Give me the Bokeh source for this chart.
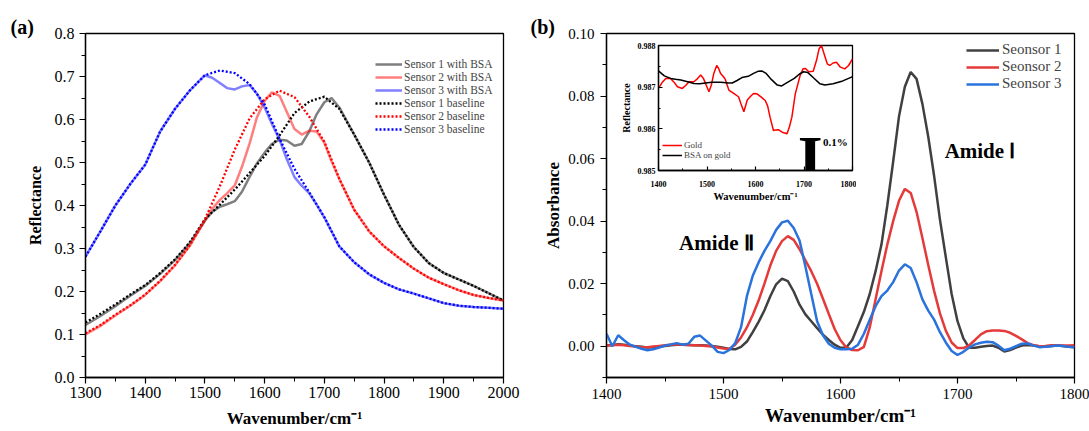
from bokeh.plotting import figure
from bokeh.models import (Range1d, Legend, LegendItem, Label,
                          FixedTicker, PrintfTickFormatter)
from bokeh.layouts import row
from bokeh.embed import file_html
from bokeh.resources import INLINE

SERIF = "Liberation Serif"

# ---------------- Panel (a) data ----------------
wn_a = list(range(1300, 2001, 25))
base1 = [0.128, 0.148, 0.170, 0.193, 0.215, 0.243, 0.275, 0.315, 0.368, 0.402,
         0.437, 0.476, 0.515, 0.563, 0.615, 0.642, 0.653, 0.625, 0.565, 0.500,
         0.425, 0.355, 0.303, 0.266, 0.243, 0.228, 0.213, 0.196, 0.179]
base2 = [0.103, 0.122, 0.146, 0.168, 0.193, 0.225, 0.262, 0.308, 0.368, 0.445,
         0.530, 0.603, 0.647, 0.667, 0.652, 0.606, 0.548, 0.462, 0.390, 0.340,
         0.305, 0.278, 0.253, 0.232, 0.217, 0.203, 0.192, 0.185, 0.179]
base3 = [0.281, 0.340, 0.400, 0.450, 0.495, 0.572, 0.625, 0.668, 0.703, 0.714,
         0.708, 0.682, 0.635, 0.555, 0.485, 0.430, 0.373, 0.305, 0.268, 0.240,
         0.220, 0.205, 0.195, 0.184, 0.173, 0.167, 0.164, 0.162, 0.160]

wn_bsa = [1300, 1325, 1350, 1375, 1400, 1425, 1450, 1475, 1500,
          1512, 1525, 1537, 1550, 1562, 1575, 1587, 1600, 1612, 1625, 1637,
          1650, 1662, 1675, 1687, 1700, 1712, 1725,
          1750, 1775, 1800, 1825, 1850, 1875, 1900, 1925, 1950, 1975, 2000]
bsa1 = [0.122, 0.143, 0.166, 0.190, 0.213, 0.241, 0.273, 0.313, 0.365,
        0.385, 0.397, 0.403, 0.410, 0.432, 0.467, 0.498, 0.523, 0.543, 0.553, 0.551,
        0.539, 0.543, 0.573, 0.612, 0.640, 0.650, 0.628,
        0.565, 0.500, 0.425, 0.355, 0.303, 0.266, 0.243, 0.228, 0.213, 0.196, 0.179]
bsa2 = [0.100, 0.120, 0.144, 0.167, 0.192, 0.224, 0.261, 0.307, 0.365,
        0.392, 0.413, 0.428, 0.447, 0.490, 0.545, 0.605, 0.643, 0.663, 0.655, 0.618,
        0.578, 0.565, 0.574, 0.572, 0.546, 0.503, 0.462,
        0.390, 0.340, 0.305, 0.278, 0.253, 0.232, 0.217, 0.203, 0.192, 0.185, 0.179]
bsa3 = [0.281, 0.340, 0.400, 0.450, 0.495, 0.572, 0.625, 0.668, 0.703,
        0.697, 0.685, 0.673, 0.670, 0.677, 0.680, 0.660, 0.628, 0.590, 0.553, 0.508,
        0.466, 0.446, 0.428, 0.402, 0.372, 0.340, 0.305,
        0.268, 0.240, 0.220, 0.205, 0.195, 0.184, 0.173, 0.167, 0.164, 0.162, 0.160]

labels_a = ["Sensor 1 with BSA", "Sensor 2 with BSA", "Sensor 3 with BSA",
            "Sensor 1 baseline", "Sensor 2 baseline", "Sensor 3 baseline"]

# ---------------- Panel (b) data ----------------
wn_b = list(range(1400, 1801, 5))
abs1 = [0.0002, 0.0004, 0.0006, 0.0005, 0.0002, 0.0000, -0.0002, -0.0004, -0.0003, -0.0001,
        0.0001, 0.0003, 0.0005, 0.0005, 0.0004, 0.0003, 0.0003, 0.0002, 0.0001, -0.0002,
        -0.0005, -0.0009, -0.0010, -0.0002, 0.0015, 0.0045, 0.0078, 0.0115, 0.0160, 0.0198,
        0.0216, 0.0208, 0.0175, 0.0133, 0.0102, 0.0080, 0.0058, 0.0037, 0.0020, 0.0005,
        -0.0005, -0.0004, 0.0020, 0.0065, 0.0110, 0.0167, 0.0240, 0.0325, 0.0450, 0.0590,
        0.0735, 0.0830, 0.0877, 0.0855, 0.0775, 0.0670, 0.0545, 0.0405, 0.0285, 0.0167,
        0.0080, 0.0025, -0.0005, -0.0005, -0.0002, 0.0001, 0.0002, -0.0005, -0.0017, -0.0012,
        -0.0004, 0.0002, 0.0004, 0.0002, 0.0000, -0.0001, 0.0001, 0.0002, 0.0001, -0.0002,
        -0.0003]
abs2 = [0.0002, 0.0003, 0.0005, 0.0003, 0.0001, -0.0001, -0.0003, -0.0003, -0.0001, 0.0001,
        0.0003, 0.0005, 0.0006, 0.0005, 0.0004, 0.0003, 0.0002, 0.0001, -0.0001, -0.0004,
        -0.0007, -0.0008, 0.0005, 0.0028, 0.0060, 0.0100, 0.0146, 0.0200, 0.0258, 0.0305,
        0.0336, 0.0352, 0.0340, 0.0310, 0.0275, 0.0240, 0.0200, 0.0152, 0.0103, 0.0055,
        0.0019, -0.0004, -0.0012, -0.0013, -0.0002, 0.0060, 0.0150, 0.0240, 0.0325, 0.0400,
        0.0465, 0.0503, 0.0490, 0.0430, 0.0346, 0.0260, 0.0177, 0.0105, 0.0050, 0.0012,
        -0.0006, -0.0006, 0.0003, 0.0020, 0.0038, 0.0048, 0.0050, 0.0050, 0.0049, 0.0043,
        0.0033, 0.0022, 0.0010, 0.0003, 0.0000, 0.0001, 0.0003, 0.0003, 0.0002, 0.0002,
        0.0003]
abs3 = [0.0040, 0.0000, 0.0035, 0.0019, 0.0005, -0.0002, -0.0008, -0.0013, -0.0010, -0.0004,
        0.0002, 0.0006, 0.0010, 0.0005, 0.0008, 0.0030, 0.0034, 0.0018, 0.0002, -0.0018,
        -0.0022, -0.0012, 0.0010, 0.0061, 0.0160, 0.0225, 0.0268, 0.0305, 0.0336, 0.0372,
        0.0396, 0.0401, 0.0378, 0.0338, 0.0255, 0.0167, 0.0080, 0.0035, 0.0008, -0.0005,
        -0.0010, -0.0010, -0.0008, 0.0005, 0.0040, 0.0085, 0.0128, 0.0160, 0.0178, 0.0205,
        0.0242, 0.0262, 0.0250, 0.0205, 0.0150, 0.0114, 0.0085, 0.0045, 0.0012, -0.0015,
        -0.0028, -0.0018, -0.0004, 0.0006, 0.0011, 0.0014, 0.0013, 0.0002, -0.0013, -0.0008,
        0.0000, 0.0008, 0.0009, 0.0002, -0.0003, -0.0002, 0.0000, 0.0002, 0.0001, -0.0002,
        -0.0003]
labels_b = ["Seonsor 1", "Seonsor 2", "Seonsor 3"]

# ---------------- Inset data ----------------
gold_wn = [1400, 1408, 1415, 1425, 1432, 1439, 1449, 1456, 1463, 1473, 1480, 1487, 1493,
           1497, 1504, 1509, 1514, 1520, 1524, 1528, 1534, 1538, 1545, 1555, 1565, 1570,
           1576, 1583, 1590, 1596, 1603, 1612, 1620, 1625, 1630, 1637, 1642, 1647, 1655,
           1665, 1670, 1675, 1682, 1692, 1698, 1703, 1710, 1719, 1726, 1731, 1736, 1742,
           1748, 1753, 1760, 1767, 1775, 1784, 1792, 1800]
gold_r = [0.98697, 0.98712, 0.98721, 0.98721, 0.98712, 0.98701, 0.98697, 0.98704, 0.98713,
          0.98713, 0.98720, 0.98729, 0.98720, 0.98709, 0.98689, 0.98705, 0.98733, 0.98752,
          0.98745, 0.98733, 0.98725, 0.98718, 0.98693, 0.98685, 0.98677, 0.98660, 0.98641,
          0.98669, 0.98678, 0.98685, 0.98684, 0.98676, 0.98668, 0.98655, 0.98628, 0.98596,
          0.98597, 0.98598, 0.98592, 0.98588, 0.98605, 0.98628, 0.98684, 0.98728, 0.98744,
          0.98745, 0.98737, 0.98738, 0.98765, 0.98792, 0.98800, 0.98778, 0.98756, 0.98752,
          0.98758, 0.98760, 0.98748, 0.98744, 0.98752, 0.98768]
bsa_wn = [1400, 1412, 1425, 1435, 1446, 1460, 1473, 1485, 1497, 1510, 1528, 1545, 1552,
          1562, 1572, 1585, 1596, 1605, 1613, 1622, 1633, 1645, 1654, 1665, 1680, 1690,
          1699, 1708, 1720, 1733, 1743, 1760, 1780, 1798, 1800]
bsa_r = [0.98739, 0.98727, 0.98721, 0.98719, 0.98717, 0.98713, 0.98709, 0.98708, 0.98710,
         0.98712, 0.98712, 0.98710, 0.98710, 0.98716, 0.98723, 0.98726, 0.98733, 0.98738,
         0.98739, 0.98733, 0.98718, 0.98705, 0.98703, 0.98711, 0.98721, 0.98731, 0.98737,
         0.98735, 0.98722, 0.98708, 0.98705, 0.98708, 0.98715, 0.98724, 0.98725]
labels_inset = ["Gold", "BSA on gold"]
scale_bar_label = "0.1%"


def style_axis(ax, tick_size, label_size, tick_out, minor_out, standoff, label_standoff,
               bold_ticks=False, tick_in=0, minor_in=0):
    ax.axis_line_color = "black"
    ax.axis_line_width = 1.3
    ax.major_tick_line_color = "black"
    ax.major_tick_line_width = 1.2
    ax.minor_tick_line_color = "black"
    ax.minor_tick_line_width = 1.0
    ax.major_tick_out = tick_out
    ax.major_tick_in = tick_in
    ax.minor_tick_out = minor_out
    ax.minor_tick_in = minor_in
    ax.major_label_text_font = SERIF
    ax.major_label_text_font_size = tick_size
    ax.major_label_text_color = "black"
    ax.major_label_text_font_style = "bold" if bold_ticks else "normal"
    ax.major_label_standoff = standoff
    ax.axis_label_text_font = SERIF
    ax.axis_label_text_font_size = label_size
    ax.axis_label_text_font_style = "bold"
    ax.axis_label_text_color = "black"
    ax.axis_label_standoff = label_standoff


def style_fig(p):
    p.xgrid.visible = False
    p.ygrid.visible = False
    p.outline_line_color = "black"
    p.outline_line_width = 1.3
    p.background_fill_color = "white"
    p.border_fill_color = "white"
    return p


def style_title(p, offset):
    p.title.text_font = SERIF
    p.title.text_font_size = "20px"
    p.title.text_font_style = "bold"
    p.title.text_color = "black"
    p.title.align = "left"
    p.title.offset = offset
    p.title.standoff = -8


def text_label(x, y, text, size, baseline="middle", align="left"):
    return Label(x=x, y=y, text=text, text_font=SERIF, text_font_size=size,
                 text_font_style="bold", text_color="black",
                 text_baseline=baseline, text_align=align)


# ================= Panel (a) =================
pa = style_fig(figure(width=523, height=431, x_range=Range1d(1300, 2000), y_range=Range1d(0, 0.8),
                      output_backend="svg", toolbar_location=None, title="(a)",
                      min_border_left=85, min_border_right=20, min_border_top=29, min_border_bottom=54))
style_title(pa, -75)
pa.xaxis.ticker = FixedTicker(ticks=list(range(1300, 2001, 100)),
                              minor_ticks=list(range(1300, 2001, 50)))
pa.yaxis.ticker = FixedTicker(ticks=[i / 10 for i in range(9)],
                              minor_ticks=[i / 20 for i in range(17)])
pa.yaxis.formatter = PrintfTickFormatter(format="%.1f")
pa.xaxis.axis_label = "Wavenumber/cm⁻¹"
pa.yaxis.axis_label = "Reflectance"
style_axis(pa.xaxis[0], "16px", "17px", 6, 4, 3, 8)
style_axis(pa.yaxis[0], "16px", "16px", 6, 4, 5, 8)

r_s1 = pa.line(wn_bsa, bsa1, line_color="black", line_alpha=0.5, line_width=2.5)
r_s2 = pa.line(wn_bsa, bsa2, line_color="red", line_alpha=0.5, line_width=2.5)
r_s3 = pa.line(wn_bsa, bsa3, line_color="blue", line_alpha=0.5, line_width=2.5)
r_b1 = pa.line(wn_a, base1, line_color="black", line_width=2.3, line_dash="2 2")
r_b2 = pa.line(wn_a, base2, line_color="red", line_width=2.3, line_dash="2 2")
r_b3 = pa.line(wn_a, base3, line_color="blue", line_width=2.3, line_dash="2 2")

leg_a = Legend(items=[LegendItem(label=l, renderers=[r]) for l, r in
                      zip(labels_a, [r_s1, r_s2, r_s3, r_b1, r_b2, r_b3])],
               location=(290, 242), border_line_color=None, background_fill_alpha=0,
               glyph_width=27, glyph_height=8, label_height=8, spacing=1, padding=0, margin=0,
               label_standoff=2, label_text_font=SERIF, label_text_font_size="11.5px")
pa.add_layout(leg_a)

# ================= Panel (b) =================
pb = style_fig(figure(width=566, height=431, x_range=Range1d(1400, 1800), y_range=Range1d(-0.01, 0.10),
                      output_backend="svg", toolbar_location=None, title="(b)",
                      min_border_left=83, min_border_right=15, min_border_top=33, min_border_bottom=44))
style_title(pb, -76)
pb.xaxis.ticker = FixedTicker(ticks=list(range(1400, 1801, 100)),
                              minor_ticks=list(range(1400, 1801, 50)))
pb.yaxis.ticker = FixedTicker(ticks=[i / 100 for i in range(0, 11, 2)],
                              minor_ticks=[i / 100 for i in range(-1, 11)])
pb.yaxis.formatter = PrintfTickFormatter(format="%.2f")
pb.xaxis.axis_label = "Wavenumber/cm⁻¹"
pb.yaxis.axis_label = "Absorbance"
style_axis(pb.xaxis[0], "15px", "19px", 6, 4, 5, 3)
style_axis(pb.yaxis[0], "15px", "17px", 6, 4, 6, 2)

c1 = pb.line(wn_b, abs1, line_color="#404040", line_width=2.5)
c2 = pb.line(wn_b, abs2, line_color="#e53a3a", line_width=2.5)
c3 = pb.line(wn_b, abs3, line_color="#2a72dc", line_width=2.5)

leg_b = Legend(items=[LegendItem(label=l, renderers=[r]) for l, r in zip(labels_b, [c1, c2, c3])],
               location=(360, 285), border_line_color=None, background_fill_alpha=0,
               glyph_width=33, glyph_height=8, label_height=8, spacing=0, padding=0, margin=0,
               label_standoff=3, label_text_font=SERIF, label_text_font_size="15px")
pb.add_layout(leg_b)

pb.add_layout(text_label(1689, 0.0625, "Amide Ⅰ", "21px"))
pb.add_layout(text_label(1462, 0.0331, "Amide Ⅱ", "21px"))

# ================= Inset =================
pi = style_fig(figure(width=244, height=212,
                      x_range=Range1d(1400, 1800), y_range=Range1d(0.985, 0.988),
                      output_backend="svg", toolbar_location=None,
                      min_border_left=46, min_border_right=4, min_border_top=33, min_border_bottom=35))
pi.border_fill_color = None
pi.title.visible = False
pi.xaxis.ticker = FixedTicker(ticks=list(range(1400, 1801, 100)),
                              minor_ticks=list(range(1400, 1801, 50)))
pi.yaxis.ticker = FixedTicker(ticks=[0.985, 0.986, 0.987, 0.988],
                              minor_ticks=[0.985, 0.9855, 0.986, 0.9865, 0.987, 0.9875, 0.988])
pi.yaxis.formatter = PrintfTickFormatter(format="%.3f")
pi.xaxis.axis_label = "Wavenumber/cm⁻¹"
pi.yaxis.axis_label = "Reflectance"
style_axis(pi.xaxis[0], "8px", "10.5px", 0, 0, 10, 1, bold_ticks=True, tick_in=4, minor_in=2)
style_axis(pi.yaxis[0], "8px", "10px", 0, 0, 3, 3, bold_ticks=True, tick_in=4, minor_in=2)

g1 = pi.line(gold_wn, gold_r, line_color="red", line_width=1.5)
g2 = pi.line(bsa_wn, bsa_r, line_color="black", line_width=1.5)
leg_i = Legend(items=[LegendItem(label=l, renderers=[r]) for l, r in zip(labels_inset, [g1, g2])],
               location=(4, 10), border_line_color=None, background_fill_alpha=0,
               glyph_width=20, glyph_height=6, label_height=6, spacing=0, padding=0, margin=0,
               label_standoff=2, label_text_font=SERIF, label_text_font_size="9px")
pi.add_layout(leg_i)
pi.add_layout(text_label(1713, 0.98528, "I", "64px", baseline="alphabetic", align="center"))
pi.add_layout(text_label(1739, 0.98568, scale_bar_label, "11px"))
pi.styles = {"position": "absolute", "left": "612px", "top": "12px", "z-index": "5"}

layout = row(pa, pb, pi)
open("out.html", "w").write(file_html(layout, INLINE))
